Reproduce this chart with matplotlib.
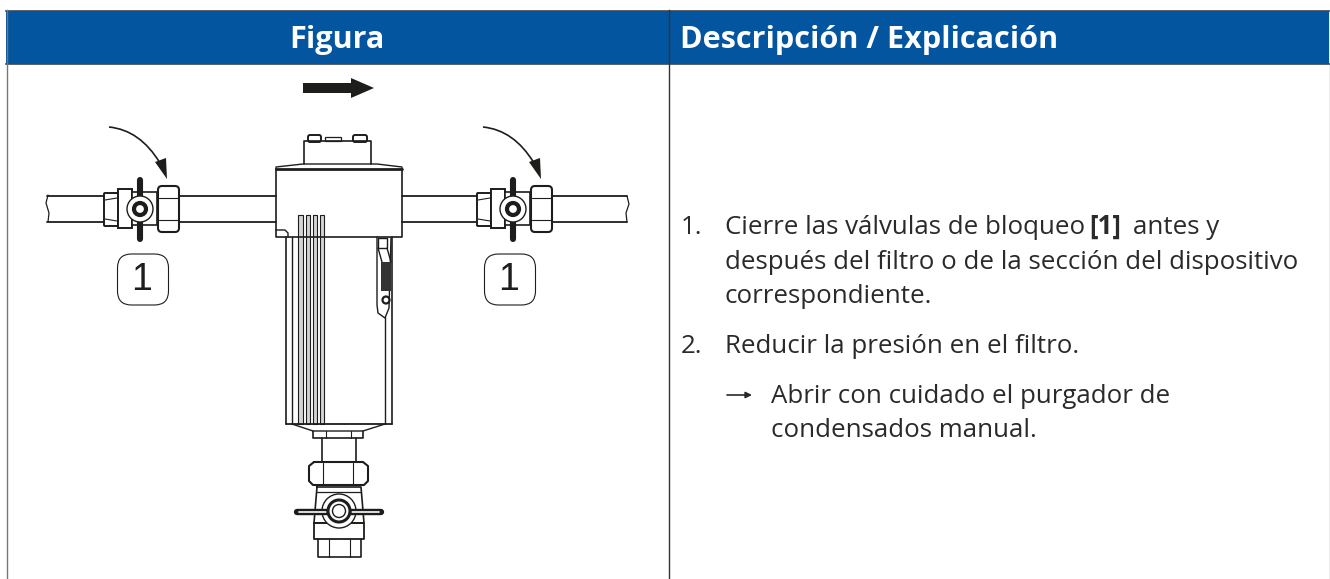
import matplotlib
matplotlib.use('Agg')
import matplotlib.pyplot as plt
from matplotlib.patches import Rectangle, FancyBboxPatch, Circle, Polygon, PathPatch
from matplotlib.path import Path

W, H = 1330, 579
BLUE = '#03559f'
INK = '#1d1d1b'
TEXT = '#2a2a2a'
GREY = '#d4d4d4'
FONT = ['Open Sans', 'DejaVu Sans']
FS = 18.6

# table
headers = ['Figura', 'Descripción / Explicación']
col_x = [6, 668, 1329]
text_lines = [
    (681, 234, '1.'),
    (725, 234, 'Cierre las válvulas de bloqueo'),
    (725, 269, 'después del filtro o de la sección del dispositivo'),
    (725, 303, 'correspondiente.'),
    (681, 353, '2.'),
    (725, 353, 'Reducir la presión en el filtro.'),
    (771, 403, 'Abrir con cuidado el purgador de'),
    (771, 437, 'condensados manual.'),
]

# drawing outlines, pixel coordinates of the reference
flow_arrow = [(303, 83), (351, 83), (351, 78), (374, 88), (351, 98), (351, 93), (303, 93)]
head_box = [(304, 164), (304, 141), (371, 141), (371, 164)]
head_slope = [(276, 167), (303, 164), (377, 164), (402, 167)]
top_box = [(276, 168), (276, 237), (402, 237), (402, 168)]
notch = [(276, 230), (285, 230), (288, 233), (288, 237)]
rib_pairs = [(298, 303), (306, 310), (313, 317), (320, 324)]
bowl_left = [(286, 237), (286, 424)]
bowl_inner = [(292, 237), (292, 424)]
bowl_right = [(392, 237), (392, 424)]
bowl_inner_right = [(385, 317), (385, 424)]
bowl_bottom = [(286, 424), (392, 424)]
taper = [(292, 424), (313, 431), (363, 431), (385, 424)]
collar = [(313, 431), (313, 438), (363, 438), (363, 431)]
collar_ticks = [326, 351]
neck = [(322, 438), (322, 462), (356, 462), (356, 438)]
nut_lower = [(314, 462), (363, 462), (368, 466), (368, 481), (364, 485), (313, 485), (309, 481), (309, 466), (314, 462)]
nut_ticks = [323, 353]
valve_lower = [(317, 487), (361, 487), (364, 523), (314, 523), (317, 487)]
block_lower = [(314, 523), (364, 523), (364, 539), (314, 539), (314, 523)]
foot_lower = [(318, 539), (318, 557), (361, 557), (361, 539)]
foot_ticks = [329, 350]
lever = [(377, 237), (377, 305), (378, 313), (385, 318), (389, 308), (391, 238)]
lever_window = [(378, 238), (387, 238), (387, 248), (378, 248), (378, 238)]
lever_strip_a = [(378, 248), (382, 262)]
lever_strip_b = [(387, 248), (391, 262)]
lever_spring = [(381, 262), (391, 262), (391, 291), (381, 291)]

pipe_segments = [(47, 104), (178, 276), (402, 477), (552, 627)]
pipe_y = [195.5, 222]
left_break = [(48, 195), (46, 203), (49, 213), (48, 222)]
right_break = [(627, 196), (629, 204), (626, 213), (627, 222)]

fig = plt.figure(figsize=(W / 100, H / 100), dpi=100, facecolor='white')
ax = fig.add_axes([0, 0, 1, 1])
ax.set_xlim(0, W)
ax.set_ylim(H, 0)
ax.axis('off')

# header band and grid
ax.add_patch(Rectangle((col_x[0], 10.5), col_x[2] - col_x[0], 53, fc=BLUE, ec='none', zorder=1))
ax.plot([col_x[0], W], [10.5, 10.5], color='#3c4650', lw=1.2)
ax.plot([col_x[0], W], [63.5, 63.5], color='#3c4650', lw=1.2)
ax.plot([col_x[0] + 0.5] * 2, [10, H], color='#777777', lw=1, zorder=2)
ax.plot([col_x[1] + 0.5] * 2, [10, H], color='#333333', lw=1, zorder=2)
ax.plot([col_x[2] + 0.5] * 2, [10, H], color='#999999', lw=1, zorder=2)
ax.text(337, 40, headers[0], color='white', fontsize=22.1, fontweight='bold', family=FONT, ha='center', va='center', zorder=3)
ax.text(680, 40, headers[1], color='white', fontsize=22.1, fontweight='bold', family=FONT, ha='left', va='center', zorder=3)

# right hand text
for x, y, s in text_lines:
    ax.text(x, y, s, color=TEXT, fontsize=FS, family=FONT, ha='left', va='baseline')
ax.text(1089, 234, '[1]', color=TEXT, fontsize=FS, fontweight='bold', family=FONT, ha='left', va='baseline')
ax.text(1133, 234, 'antes y', color=TEXT, fontsize=FS, family=FONT, ha='left', va='baseline')
ax.annotate('', xy=(752, 395), xytext=(727, 395), arrowprops=dict(arrowstyle='-|>', color=TEXT, lw=1.2, mutation_scale=9, shrinkA=0, shrinkB=0))


def outline(pts, lw=1.2, z=5, color=INK):
    ax.plot([p[0] for p in pts], [p[1] for p in pts], color=color, lw=lw, solid_capstyle='round', zorder=z)


# flow arrow
ax.add_patch(Polygon(flow_arrow, fc=INK, ec='none'))

# pipes
for x0, x1 in pipe_segments:
    for y in pipe_y:
        outline([(x0, y), (x1, y)], 1.3)
outline(left_break, 0.9)
outline(right_break, 0.9)

# filter head
outline(head_box)
outline(head_slope, 1.0)
outline([(276, 168.5), (402, 168.5)], 2.0)
outline(top_box)
outline(notch, 1.0)
for x, w in [(308, 13), (353, 14)]:
    ax.add_patch(FancyBboxPatch((x + 2, 137), w - 4, 3, boxstyle='round,pad=2', fc='white', ec=INK, lw=1.4, zorder=4))
ax.add_patch(Rectangle((325, 137), 16, 4, fc='white', ec=INK, lw=0.9, zorder=4))

# bowl and ribs
for x0, x1 in rib_pairs:
    ax.add_patch(Rectangle((x0, 215), x1 - x0, 209, fc=GREY, ec=INK, lw=0.8, zorder=4))
outline(bowl_left)
outline(bowl_inner, 1.0)
outline(bowl_right)
outline(bowl_inner_right, 1.0)
outline(bowl_bottom, 1.3)
outline(taper, 1.0)

# lever
outline(lever, 1.0)
outline(lever_window, 1.0)
outline(lever_strip_a, 1.0)
outline(lever_strip_b, 1.0)
ax.add_patch(Polygon(lever_spring, fc='#333333', ec='none', zorder=5))
ax.add_patch(Circle((386, 300), 3.5, fc='white', ec=INK, lw=1.6, zorder=6))

# parts below the bowl
outline(collar)
for x in collar_ticks:
    outline([(x, 431), (x, 438)], 0.8)
outline(neck)
outline(nut_lower, 1.5)
for x in nut_ticks:
    outline([(x, 463), (x, 485)], 0.8)
outline(valve_lower)
outline([(317, 492), (361, 492)], 0.9)
outline(block_lower, 1.3, 6)
outline(foot_lower)
for x in foot_ticks:
    outline([(x, 539), (x, 557)], 0.8)
outline([(297, 511.5), (328, 511.5)], 4.6, 7)
outline([(350, 511.5), (381, 511.5)], 4.6, 7)
outline([(299, 511.5), (326, 511.5)], 1.2, 8, 'white')
outline([(352, 511.5), (379, 511.5)], 1.2, 8, 'white')
ax.add_patch(Circle((339, 511), 17, fc='white', ec=INK, lw=1.0, zorder=6))
ax.add_patch(Circle((339, 511), 11, fc='white', ec=INK, lw=2.2, zorder=9))
ax.add_patch(Circle((339, 511), 6.5, fc='white', ec=INK, lw=1.0, zorder=10))


def valve(dx):
    # side valve on the horizontal pipe, dx shifts the left one to the right one
    ax.add_patch(FancyBboxPatch((105 + dx, 194), 12, 31, boxstyle='round,pad=1', fc='white', ec=INK, lw=1.4, zorder=5))
    outline([(105 + dx, 200), (117 + dx, 198)], 0.8, 6)
    outline([(105 + dx, 219), (117 + dx, 221)], 0.8, 6)
    ax.add_patch(Rectangle((118 + dx, 189), 14, 39, fc='white', ec=INK, lw=1.4, zorder=5))
    ax.add_patch(Rectangle((132 + dx, 192), 25, 33, fc='white', ec=INK, lw=1.2, zorder=5))
    ax.add_patch(FancyBboxPatch((160 + dx, 188), 17, 42, boxstyle='round,pad=2,rounding_size=4', fc='white', ec=INK, lw=1.5, zorder=6))
    outline([(159 + dx, 198), (178 + dx, 198)], 0.8, 7)
    outline([(159 + dx, 220), (178 + dx, 220)], 0.8, 7)
    outline([(140 + dx, 180), (140 + dx, 239)], 4.4, 7)
    ax.add_patch(Circle((140 + dx, 209), 13, fc='white', ec=INK, lw=1.0, zorder=8))
    ax.add_patch(Circle((140 + dx, 209), 6, fc='white', ec=INK, lw=3.0, zorder=9))


valve(0)
valve(373)

# curved arrows
for dx in [0, 374]:
    curve = Path([(109 + dx, 127), (140 + dx, 130), (160 + dx, 163)], [Path.MOVETO, Path.CURVE3, Path.CURVE3])
    ax.add_patch(PathPatch(curve, fc='none', ec=INK, lw=1.2, zorder=5))
    ax.add_patch(Polygon([(155 + dx, 162), (166 + dx, 158), (167 + dx, 179)], fc=INK, ec='none', zorder=5))

# callouts
for x, y in [(143, 279.5), (510, 279.5)]:
    ax.add_patch(FancyBboxPatch((x - 11, y - 11), 22, 22, boxstyle='round,pad=14.5,rounding_size=14', fc='white', ec=INK, lw=0.8, zorder=5))
    ax.text(x - 1, y, '1', fontsize=27, family=['Liberation Sans', 'DejaVu Sans'], color=INK, ha='center', va='center', zorder=6)

fig.savefig('out.png', dpi=100)
